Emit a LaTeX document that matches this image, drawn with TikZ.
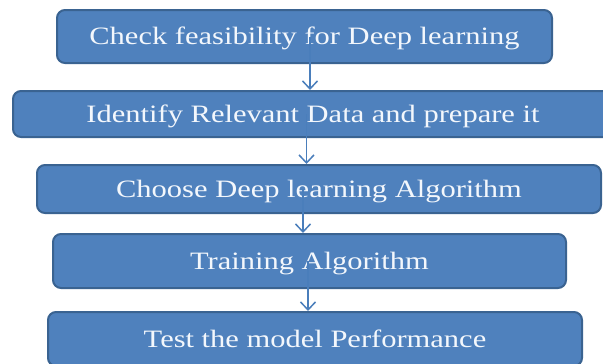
\documentclass[tikz,border=0pt]{standalone}
\usepackage{fontspec}
\setmainfont{Liberation Serif}
\usepackage{tikz}
\usetikzlibrary{arrows.meta,positioning,calc}
\definecolor{stepfill}{HTML}{4F81BD}
\definecolor{stepedge}{HTML}{3A6391}
\definecolor{steptext}{HTML}{F3F7FC}
\definecolor{flowblue}{HTML}{4A7EBB}

% wide serif lettering used in every box
\newcommand{\widetext}[1]{\scalebox{1.22}[1]{#1}}

\begin{document}
\begin{tikzpicture}[
    x=1pt, y=-1pt,
    stepbox/.style={rectangle, draw=stepedge, line width=2pt, fill=stepfill, rounded corners=8pt,
                    text=steptext, font=\fontsize{25}{30}\selectfont, inner sep=0pt, align=center,
                    text height=17pt, text depth=0pt},
    flow/.style={-{Straight Barb[length=8pt,width=15pt]}, line width=1.5pt, flowblue}
]
    \useasboundingbox (0,0) rectangle (603,364);

    % Steps of the workflow, top to bottom
    \node[stepbox, minimum width=495pt, minimum height=53pt] (feas) at (304.5,36.5)
        {\widetext{Check feasibility for Deep learning}};
    \node[stepbox, minimum width=600pt, minimum height=46pt] (data) at (313,114)
        {\widetext{Identify Relevant Data and prepare it}};
    \node[stepbox, minimum width=564pt, minimum height=48pt] (algo) at (319,189)
        {\widetext{Choose Deep learning Algorithm}};
    \node[stepbox, minimum width=513pt, minimum height=54pt] (train) at (309.5,261)
        {\widetext{Training Algorithm}};
    \node[stepbox, minimum width=534pt, minimum height=54pt] (test) at (315,339)
        {\widetext{Test the model Performance}};

    % Connectors
    \draw[flow] ([xshift=5.5pt]feas.center) -- ([xshift=5.5pt]feas.center |- data.north);
    \draw[flow] ([xshift=-6.5pt]data.center) -- ([xshift=-6.5pt]data.center |- algo.north);
    \draw[flow] ([xshift=-16pt]algo.center) -- ([xshift=-16pt]algo.center |- train.north);
    \draw[flow] ([xshift=-1.5pt]train.center) -- ([xshift=-1.5pt]train.center |- test.north);
\end{tikzpicture}
\end{document}
